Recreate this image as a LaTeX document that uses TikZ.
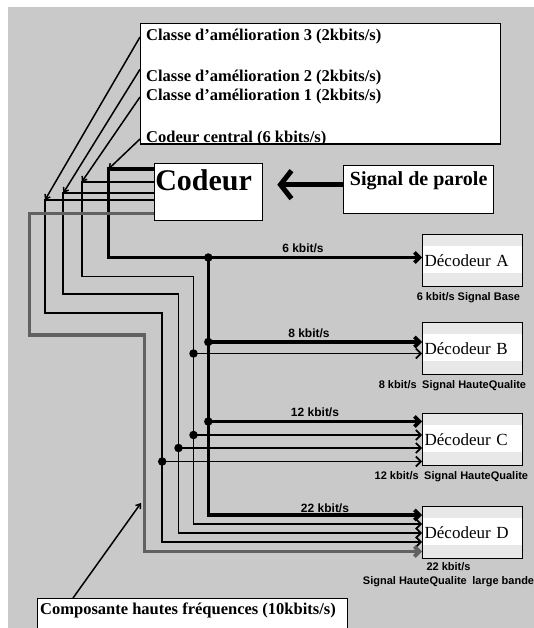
\documentclass[tikz,border=0pt]{standalone}
\usepackage{fontspec}
\setmainfont{Liberation Serif}
\setsansfont{Liberation Sans}
\usetikzlibrary{arrows.meta,positioning}

\begin{document}
\begin{tikzpicture}[x=1pt,y=-1pt]

  \tikzstyle{box}=[draw,fill=white,line width=1.3pt,inner sep=0pt,anchor=north west]
  \tikzstyle{decoder}=[box,minimum width=100pt,minimum height=52pt,text width=96pt,align=left,
    font=\fontsize{17}{17}\selectfont,
    path picture={
      \fill[black!9] (path picture bounding box.north west) rectangle ([yshift=-11pt]path picture bounding box.north east);
      \fill[black!9] (path picture bounding box.south west) rectangle ([yshift=14pt]path picture bounding box.south east);}]
  \tikzstyle{classe}=[anchor=west,inner xsep=6pt,inner ysep=1pt,font=\bfseries\fontsize{16.5}{17}\selectfont]
  \tikzstyle{note}=[line width=1.5pt,-{Straight Barb[length=4pt,width=6pt]}]
  \tikzstyle{wire}=[line width=1.7pt,-{Straight Barb[length=5pt,width=10pt]}]
  \tikzstyle{bus}=[line width=3.6pt,-{Straight Barb[length=5pt,width=10pt]}]
  \tikzstyle{hf}=[line width=3.8pt,draw=black!62,-{Straight Barb[length=5pt,width=10pt]}]
  \tikzstyle{dot}=[circle,fill,inner sep=0pt,minimum size=8.5pt]
  \tikzstyle{rate}=[inner sep=0pt,font=\sffamily\bfseries\fontsize{12}{13}\selectfont]
  \tikzstyle{sortie}=[rate,anchor=north east,align=center,font=\sffamily\bfseries\fontsize{11}{14}\selectfont]

  \useasboundingbox (0,0) rectangle (534,628);
  \fill[black!21] (8,7) rectangle (534,628);

  \node[box,minimum width=360pt,minimum height=120pt] (classes) at (140,23) {};
  \foreach \n/\y in {3/37,2/78,1/97}
    \node[classe] (cl-\n) at (140,\y) {Classe d'amélioration \n{} (2kbits/s)};
  \begin{scope}
    \clip (classes.north west) rectangle (classes.south east);
    \node[classe] (central) at (140,139) {Codeur central (6 kbits/s)};
  \end{scope}
  \draw[line width=1.3pt] (classes.south west) -- (classes.south east);

  \node[box,minimum width=108pt,minimum height=57pt] (codeur) at (154,163) {};
  \node[below=6pt of codeur.north,xshift=-5pt,inner sep=0pt,font=\bfseries\fontsize{30}{30}\selectfont] (codeur-txt) {Codeur};

  \node[box,minimum width=150pt,minimum height=48pt] (parole) at (343,165) {};
  \node[below=6pt of parole.north,inner sep=0pt,font=\bfseries\fontsize{20}{20}\selectfont] (parole-txt) {Signal de parole};
  \coordinate (entree) at ([yshift=5pt]parole.west);
  \draw[line width=5pt,-{Straight Barb[length=11pt,width=28pt]},shorten >=14pt] (entree) -- (entree -| codeur.east);

  \foreach \name/\y in {A/234,B/322,C/413,D/506}
    \node[decoder] (dec-\name) at (422,\y) {Décodeur \name};

  \node[sortie] (out-A) at ([xshift=-3pt,yshift=-5pt]dec-A.south east) {6 kbit/s Signal Base};
  \node[sortie] (out-B) at ([xshift=3pt,yshift=-5pt]dec-B.south east) {8 kbit/s\enspace Signal HauteQualite};
  \node[sortie] (out-C) at ([xshift=5pt,yshift=-5pt]dec-C.south east) {12 kbit/s\enspace Signal HauteQualite};
  \node[sortie] (out-D) at ([xshift=11pt,yshift=-3pt]dec-D.south east) {22 kbit/s\\Signal HauteQualite\enspace large bande};

  \foreach \name/\x/\y/\r in {A/303/248/6, B/309/333/8, C/315/412/12, D/325/508/22}
    \node[rate] (rate-\name) at (\x,\y) {\r\ kbit/s};

  % coeur 6 kbit/s
  \coordinate (c0-top) at (108.5,169);
  \coordinate (c0-a) at (108.5,257.5);
  \draw[bus] (codeur.west |- c0-top) -- (c0-top) -- (c0-a) -- (c0-a -| dec-A.west);
  \node[dot] (j-A) at (208.3,257.5) {};
  \coordinate (c0-d) at (208.3,515);
  \draw[bus] (j-A.center) -- (c0-d) -- (c0-d -| dec-D.west);

  \foreach \n/\xl/\yt/\yk/\xb/\yd in {1/81.7/182/276.5/193.5/524, 2/63.3/193/294.3/178.5/533, 3/45/200/312.7/162.2/542}
  {
    \coordinate (c\n-top) at (\xl,\yt);
    \coordinate (c\n-a) at (\xl,\yk);
    \coordinate (c\n-b) at (\xb,\yk);
    \coordinate (c\n-d) at (\xb,\yd);
    \draw[wire] (codeur.west |- c\n-top) -- (c\n-top) -- (c\n-a) -- (c\n-b) -- (c\n-d) -- (c\n-d -| dec-D.west);
  }

  \coordinate (hf-top) at (29.5,213.5);
  \coordinate (hf-a) at (29.5,335);
  \coordinate (hf-b) at (144.5,335);
  \coordinate (hf-d) at (144.5,551.5);
  \draw[hf] (codeur.west |- hf-top) -- (hf-top) -- (hf-a) -- (hf-b) -- (hf-d) -- (hf-d -| dec-D.west);

  \foreach \x/\y/\to/\w [count=\k] in {208.3/342/B/bus, 193.5/353.5/B/wire, 208.3/421.5/C/bus, 193.5/435/C/wire, 178.5/448/C/wire, 162.2/461.5/C/wire}
  {
    \node[dot] (j-\k) at (\x,\y) {};
    \draw[\w] (j-\k.center) -- (j-\k -| dec-\to.west);
  }

  \draw[note] (cl-3.west) -- (c3-top);
  \draw[note] (cl-2.north west) -- (c2-top);
  \draw[note] (cl-1.west) -- (c1-top);
  \draw[note] (central.west) -- (c0-top);

  \node[box,minimum width=310pt,minimum height=45pt] (comp) at (37,598) {};
  \node[classe,inner xsep=3pt] (comp-txt) at (37,610) {Composante hautes fréquences (10kbits/s)};
  \coordinate (hf-note) at (141,503);
  \draw[note] ([xshift=36pt]comp.north west) -- (hf-note);
\end{tikzpicture}
\end{document}
